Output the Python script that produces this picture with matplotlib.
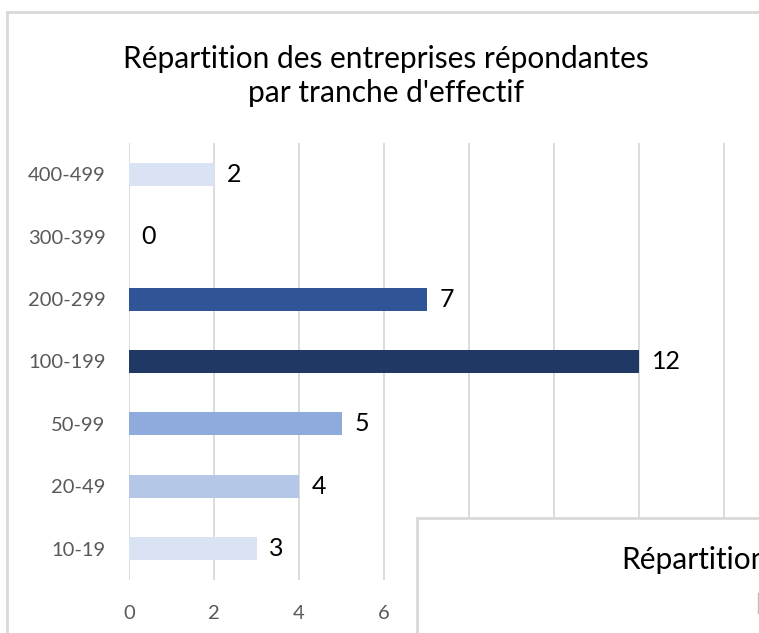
import matplotlib
matplotlib.use("Agg")
import matplotlib.pyplot as plt
from matplotlib.patches import Rectangle
from matplotlib.lines import Line2D

categories = ["10-19", "20-49", "50-99", "100-199", "200-299", "300-399", "400-499"]
counts = [3, 4, 5, 12, 7, 0, 2]
colors = ["#DAE3F3", "#B4C7E7", "#8FAADC", "#203864", "#2F5597", "#DAE3F3", "#DAE3F3"]
xticks = [0, 2, 4, 6, 8, 10, 12, 14]
title = "Répartition des entreprises répondantes\npar tranche d'effectif"

plt.rcParams['font.family'] = ['Lato', 'DejaVu Sans']

W, H = 759, 633
fig = plt.figure(figsize=(W / 100, H / 100), dpi=100)


def fx(x):
    return x / W


def fy(y):
    return 1 - y / H


# axes placed in pixel terms: x=0 at px 129, 42.5 px per unit
left, top, bottom = 129, 143, 580
ax = fig.add_axes([fx(left), fy(bottom), 1 - fx(left), fy(top) - fy(bottom)])
ax.set_xlim(0, (W - left) / 42.5)
ax.set_ylim(-0.5, len(categories) - 0.5)

ypos = list(range(len(categories)))
ax.barh(ypos, counts, height=0.37, color=colors, zorder=3)
for y, v in zip(ypos, counts):
    ax.text(v + 0.3, y, str(v), va='center', ha='left', fontsize=18, color='black')

ax.set_yticks(ypos)
ax.set_yticklabels(categories)
ax.set_xticks(xticks)
ax.tick_params(axis='both', length=0, colors='#595959', labelsize=14.5)
ax.tick_params(axis='y', pad=17)
ax.tick_params(axis='x', pad=18)
ax.grid(axis='x', color='#D9D9D9', linewidth=1.3, zorder=0)
for s in ax.spines.values():
    s.set_visible(False)

fig.text(fx(386), fy(76), title, ha='center', va='center', fontsize=21.5,
         color='black', linespacing=1.3)

# outer chart border
fig.add_artist(Line2D([fx(7), 1.01], [fy(12), fy(12)], color='#D9D9D9', lw=2))
fig.add_artist(Line2D([fx(7), fx(7)], [fy(12), -0.01], color='#D9D9D9', lw=2))

# overlapping second chart in the corner (cut by the screenshot edge)
fig.add_artist(Rectangle((fx(417), -0.1), 0.6, fy(518) + 0.1, transform=fig.transFigure,
                         facecolor='white', edgecolor='#D9D9D9', lw=2, zorder=10))
fig.text(fx(621), fy(560), "Répartition", ha='left', va='center', fontsize=21.5,
         color='black', zorder=11)
fig.add_artist(Line2D([fx(758), fx(758)], [fy(593), fy(613)], color='#BFBFBF', lw=1, zorder=11))

fig.savefig("out.png", dpi=100)
